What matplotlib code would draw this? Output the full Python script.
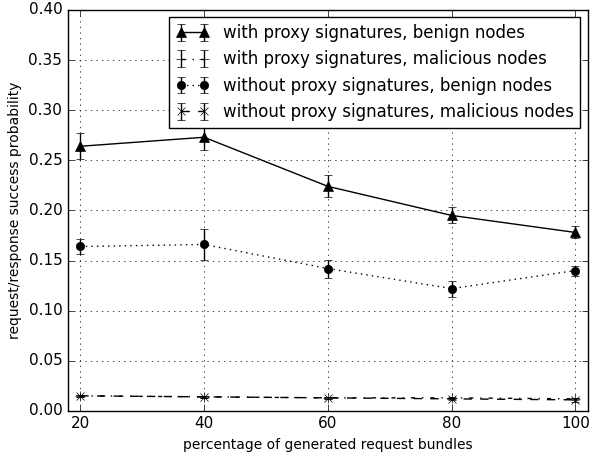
import numpy as np
import matplotlib
matplotlib.use('Agg')
from matplotlib import pyplot as plt

plt.style.use('classic')

bundles = [20, 40, 60, 80, 100]

proxy_benign = [0.264, 0.273, 0.224, 0.195, 0.178]
proxy_benign_err = [0.013, 0.013, 0.011, 0.008, 0.006]

proxy_malicious = [0.015, 0.014, 0.013, 0.013, 0.012]
proxy_malicious_err = [0.001, 0.001, 0.001, 0.001, 0.001]

noproxy_benign = [0.164, 0.166, 0.142, 0.122, 0.140]
noproxy_benign_err = [0.007, 0.015, 0.009, 0.008, 0.005]

noproxy_malicious = [0.015, 0.014, 0.013, 0.012, 0.011]
noproxy_malicious_err = [0.001, 0.001, 0.001, 0.001, 0.002]

fig = plt.figure(figsize=(6.01, 4.53), dpi=100, facecolor='white')
ax = fig.add_axes([0.113, 0.093, 0.865, 0.885])

ax.errorbar(bundles, proxy_benign, yerr=proxy_benign_err, fmt='k^-', ms=6.5,
            capsize=3, label='with proxy signatures, benign nodes')
ax.errorbar(bundles, proxy_malicious, yerr=proxy_malicious_err, fmt='k+-.', ms=6.5,
            capsize=3, label='with proxy signatures, malicious nodes')
ax.errorbar(bundles, noproxy_benign, yerr=noproxy_benign_err, fmt='ko:', ms=6,
            capsize=3, label='without proxy signatures, benign nodes')
ax.errorbar(bundles, noproxy_malicious, yerr=noproxy_malicious_err, fmt='kx--', ms=6,
            capsize=3, label='without proxy signatures, malicious nodes')

ax.set_xlim(18, 102)
ax.set_ylim(0, 0.40)
ax.set_xticks(bundles)
ax.set_yticks(np.arange(0, 0.41, 0.05))
ax.tick_params(labelsize=11)
ax.grid(True)
ax.set_xlabel('percentage of generated request bundles', fontsize=10)
ax.set_ylabel('request/response success probability', fontsize=10)
ax.legend(loc='upper right', fontsize=12, numpoints=2, borderaxespad=0.45)

fig.savefig('out.png', dpi=100, facecolor='white')
